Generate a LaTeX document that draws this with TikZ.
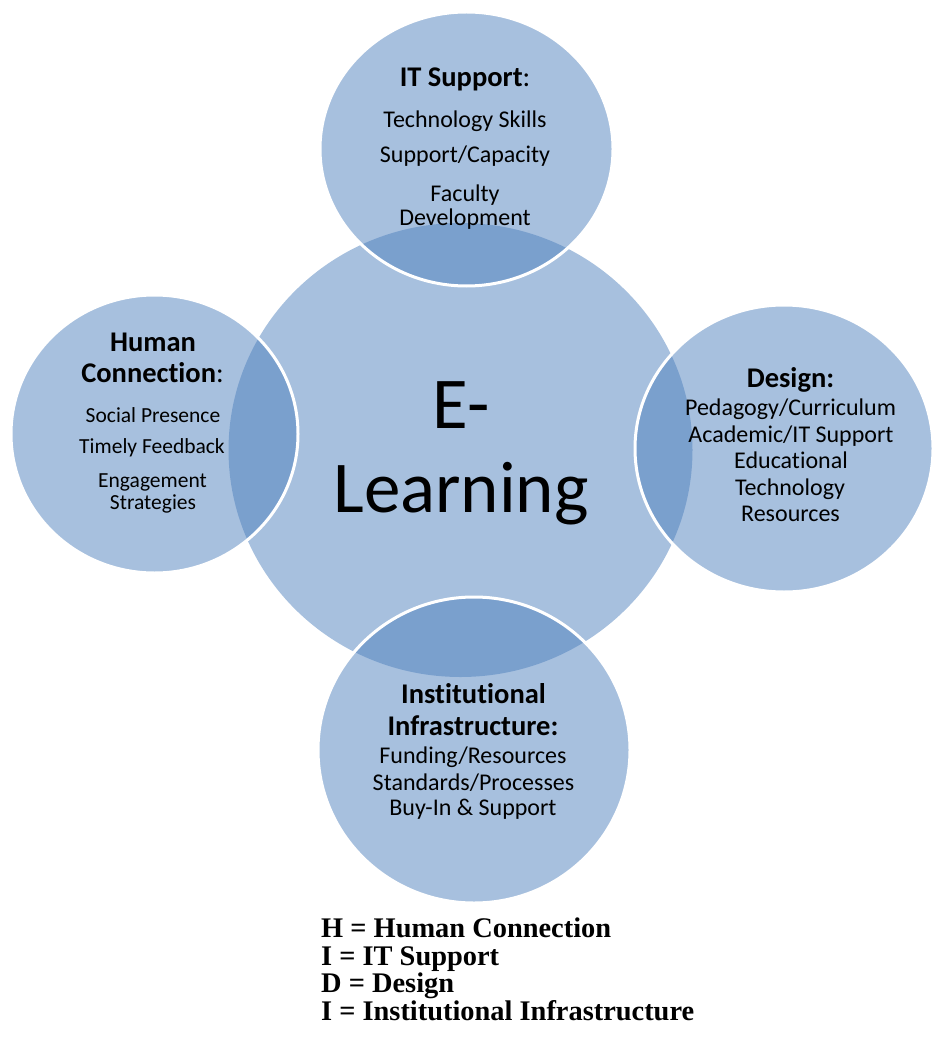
\documentclass[tikz,border=0pt]{standalone}
\usepackage{fontspec}
\setmainfont{Carlito}[Ligatures=CommonOff]
\newfontfamily\legendfont{Liberation Serif}
\usetikzlibrary{shapes.geometric}
\definecolor{accent}{HTML}{4F81BD}
\tikzset{
  bub/.style={ellipse, inner sep=0pt, fill=accent, fill opacity=0.5, draw=white, draw opacity=1, line width=3pt},
  hub/.style={ellipse, inner sep=0pt, fill=accent, fill opacity=0.5},
  lbl/.style={anchor=base, inner sep=0pt, text=black},
  ttl/.style={lbl, font=\fontsize{28.5}{30}\selectfont\bfseries},
  body/.style={lbl, font=\fontsize{24}{26}\selectfont},
  bodys/.style={lbl, font=\fontsize{21.5}{24}\selectfont},
  big/.style={lbl, font=\fontsize{73}{80}\selectfont},
  leg/.style={anchor=base west, inner sep=0pt, font=\fontsize{28.4}{30}\selectfont\legendfont\bfseries}
}
\begin{document}
\begin{tikzpicture}[x=1pt, y=-1pt]
\useasboundingbox (0,0) rectangle (934,1040);
% hub
\node[hub, minimum width=464pt, minimum height=454pt] (hubc) at (460.5,450) {};
% satellites
\node[bub, minimum width=293pt, minimum height=274pt] (top) at (466.5,149) {};
\node[bub, minimum width=287pt, minimum height=278pt] (left) at (154.5,434) {};
\node[bub, minimum width=298pt, minimum height=287pt] (right) at (784,448.5) {};
\node[bub, minimum width=312pt, minimum height=306pt] (bottom) at (474,750) {};
% centre text
\node[big] (e1) at (461,428) {E-};
\node[big] (e2) at (461,512) {Learning};
% top
\node[ttl] (t1) at (465,87) {IT Support\mdseries:};
\node[body] (t2) at (465,128) {Technology Skills};
\node[body] (t3) at (465,163) {Support/Capacity};
\node[body] (t4) at (465,202) {Faculty};
\node[body] (t5) at (465,226) {Development};
% left
\node[ttl] (l1) at (153,351) {Human};
\node[ttl] (l2) at (152.5,382) {Connection\mdseries:};
\node[bodys] (l3) at (153,422) {Social Presence};
\node[bodys] (l4) at (152,453) {Timely Feedback};
\node[bodys] (l5) at (152.5,487) {Engagement};
\node[bodys] (l6) at (153,509) {Strategies};
% right
\node[ttl] (r1) at (790.5,387) {Design:};
\node[body] (r2) at (790.5,415) {Pedagogy/Curriculum};
\node[body] (r3) at (791,442) {Academic/IT Support};
\node[body] (r4) at (791,468) {Educational};
\node[body] (r5) at (790,495) {Technology};
\node[body] (r6) at (790.5,521) {Resources};
% bottom
\node[ttl] (b1) at (473.5,703) {Institutional};
\node[ttl] (b2) at (473,735) {Infrastructure:};
\node[body] (b3) at (473,763) {Funding/Resources};
\node[body] (b4) at (473.5,790) {Standards/Processes};
\node[body] (b5) at (473,815) {Buy-In \& Support};
% legend
\node[leg] (g1) at (321,937) {H = Human Connection};
\node[leg] (g2) at (321,965) {I = IT Support};
\node[leg] (g3) at (321,992) {D = Design};
\node[leg] (g4) at (321,1020) {I = Institutional Infrastructure};
\end{tikzpicture}
\end{document}
